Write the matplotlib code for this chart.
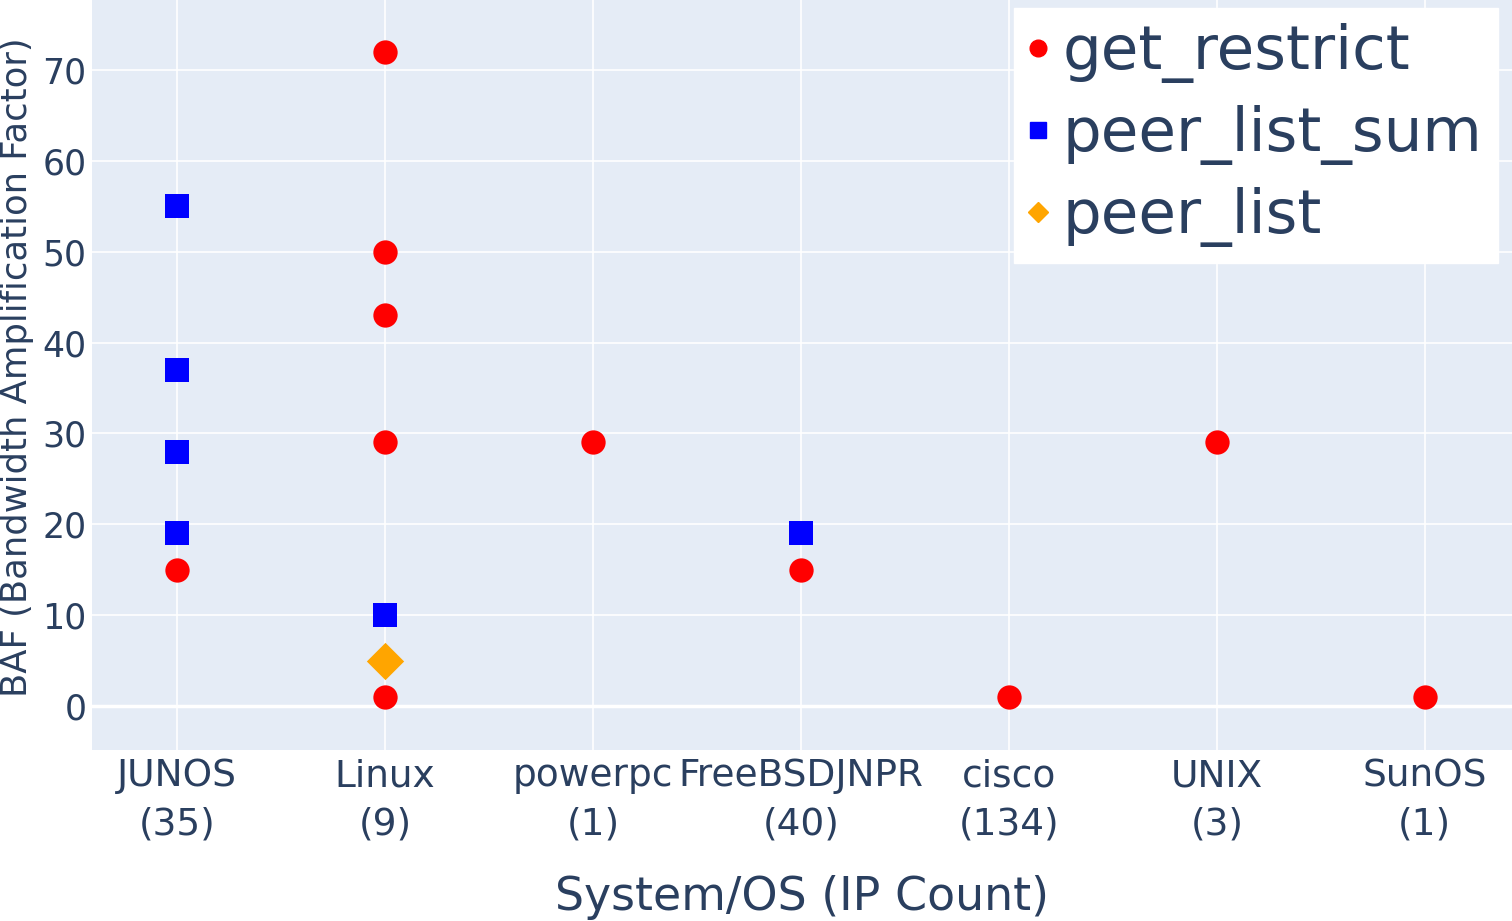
import numpy as np
import matplotlib.pyplot as plt
from matplotlib.lines import Line2D

# categories (x axis)
systems = ['JUNOS', 'Linux', 'powerpc', 'FreeBSDJNPR', 'cisco', 'UNIX', 'SunOS']
ip_counts = [35, 9, 1, 40, 134, 3, 1]

# get_restrict
gr_sys = ['JUNOS', 'Linux', 'Linux', 'Linux', 'Linux', 'Linux', 'powerpc',
          'FreeBSDJNPR', 'cisco', 'UNIX', 'SunOS']
gr_baf = [15, 72, 50, 43, 29, 1, 29, 15, 1, 29, 1]

# peer_list_sum
pls_sys = ['JUNOS', 'JUNOS', 'JUNOS', 'JUNOS', 'Linux', 'FreeBSDJNPR']
pls_baf = [55, 37, 28, 19, 10, 19]

# peer_list
pl_sys = ['Linux']
pl_baf = [5]

txt = '#2a3f5f'
plt.rcParams['font.family'] = 'DejaVu Sans'

fig = plt.figure(figsize=(15.12, 9.21), dpi=100)
ax = fig.add_axes([92/1512, 171/921, 1420/1512, 750/921])
ax.set_facecolor('#E5ECF6')

pos = {s: i for i, s in enumerate(systems)}

ax.scatter([pos[s] for s in gr_sys], gr_baf, s=17.5**2, marker='o', color='red',
           linewidths=0, zorder=3)
ax.scatter([pos[s] for s in pls_sys], pls_baf, s=17.5**2, marker='s', color='blue',
           linewidths=0, zorder=3)
ax.scatter([pos[s] for s in pl_sys], pl_baf, s=19**2, marker='D', color='orange',
           linewidths=0, zorder=3)

ax.set_xlim(-0.41, 6.42)
ax.set_ylim(-4.85, 77.7)
ax.set_xticks(range(len(systems)))
ax.set_xticklabels([f'{s}\n({c})' for s, c in zip(systems, ip_counts)],
                   fontsize=27, color=txt, linespacing=1.45)
ax.set_yticks(range(0, 80, 10))
ax.tick_params(axis='y', labelsize=25, labelcolor=txt, length=0, pad=4)
ax.tick_params(axis='x', length=0, pad=6)
ax.grid(True, color='white', linewidth=1.2)
ax.axhline(0, color='white', linewidth=2.5, zorder=1)
ax.set_axisbelow(True)
for sp in ax.spines.values():
    sp.set_visible(False)

ax.set_xlabel('System/OS (IP Count)', fontsize=33, color=txt, labelpad=23)
ax.set_ylabel('BAF (Bandwidth Amplification Factor)', fontsize=25.5, color=txt,
              va='center')
ax.yaxis.set_label_coords(-75/1420, 0.51)

handles = [
    Line2D([], [], marker='o', color='red', linestyle='none', markersize=12),
    Line2D([], [], marker='s', color='blue', linestyle='none', markersize=11),
    Line2D([], [], marker='D', color='orange', linestyle='none', markersize=10),
]
leg = ax.legend(handles, ['get_restrict', 'peer_list_sum', 'peer_list'],
                loc='upper right', bbox_to_anchor=(1.0 - 14/1420, 1.0 - 8/750),
                fontsize=44, frameon=True, fancybox=False, framealpha=1,
                edgecolor='white', borderpad=0.25, handlelength=0.3,
                handletextpad=0.25, labelspacing=0.36, borderaxespad=0)
for t in leg.get_texts():
    t.set_color(txt)

fig.savefig('out.png', dpi=100)
